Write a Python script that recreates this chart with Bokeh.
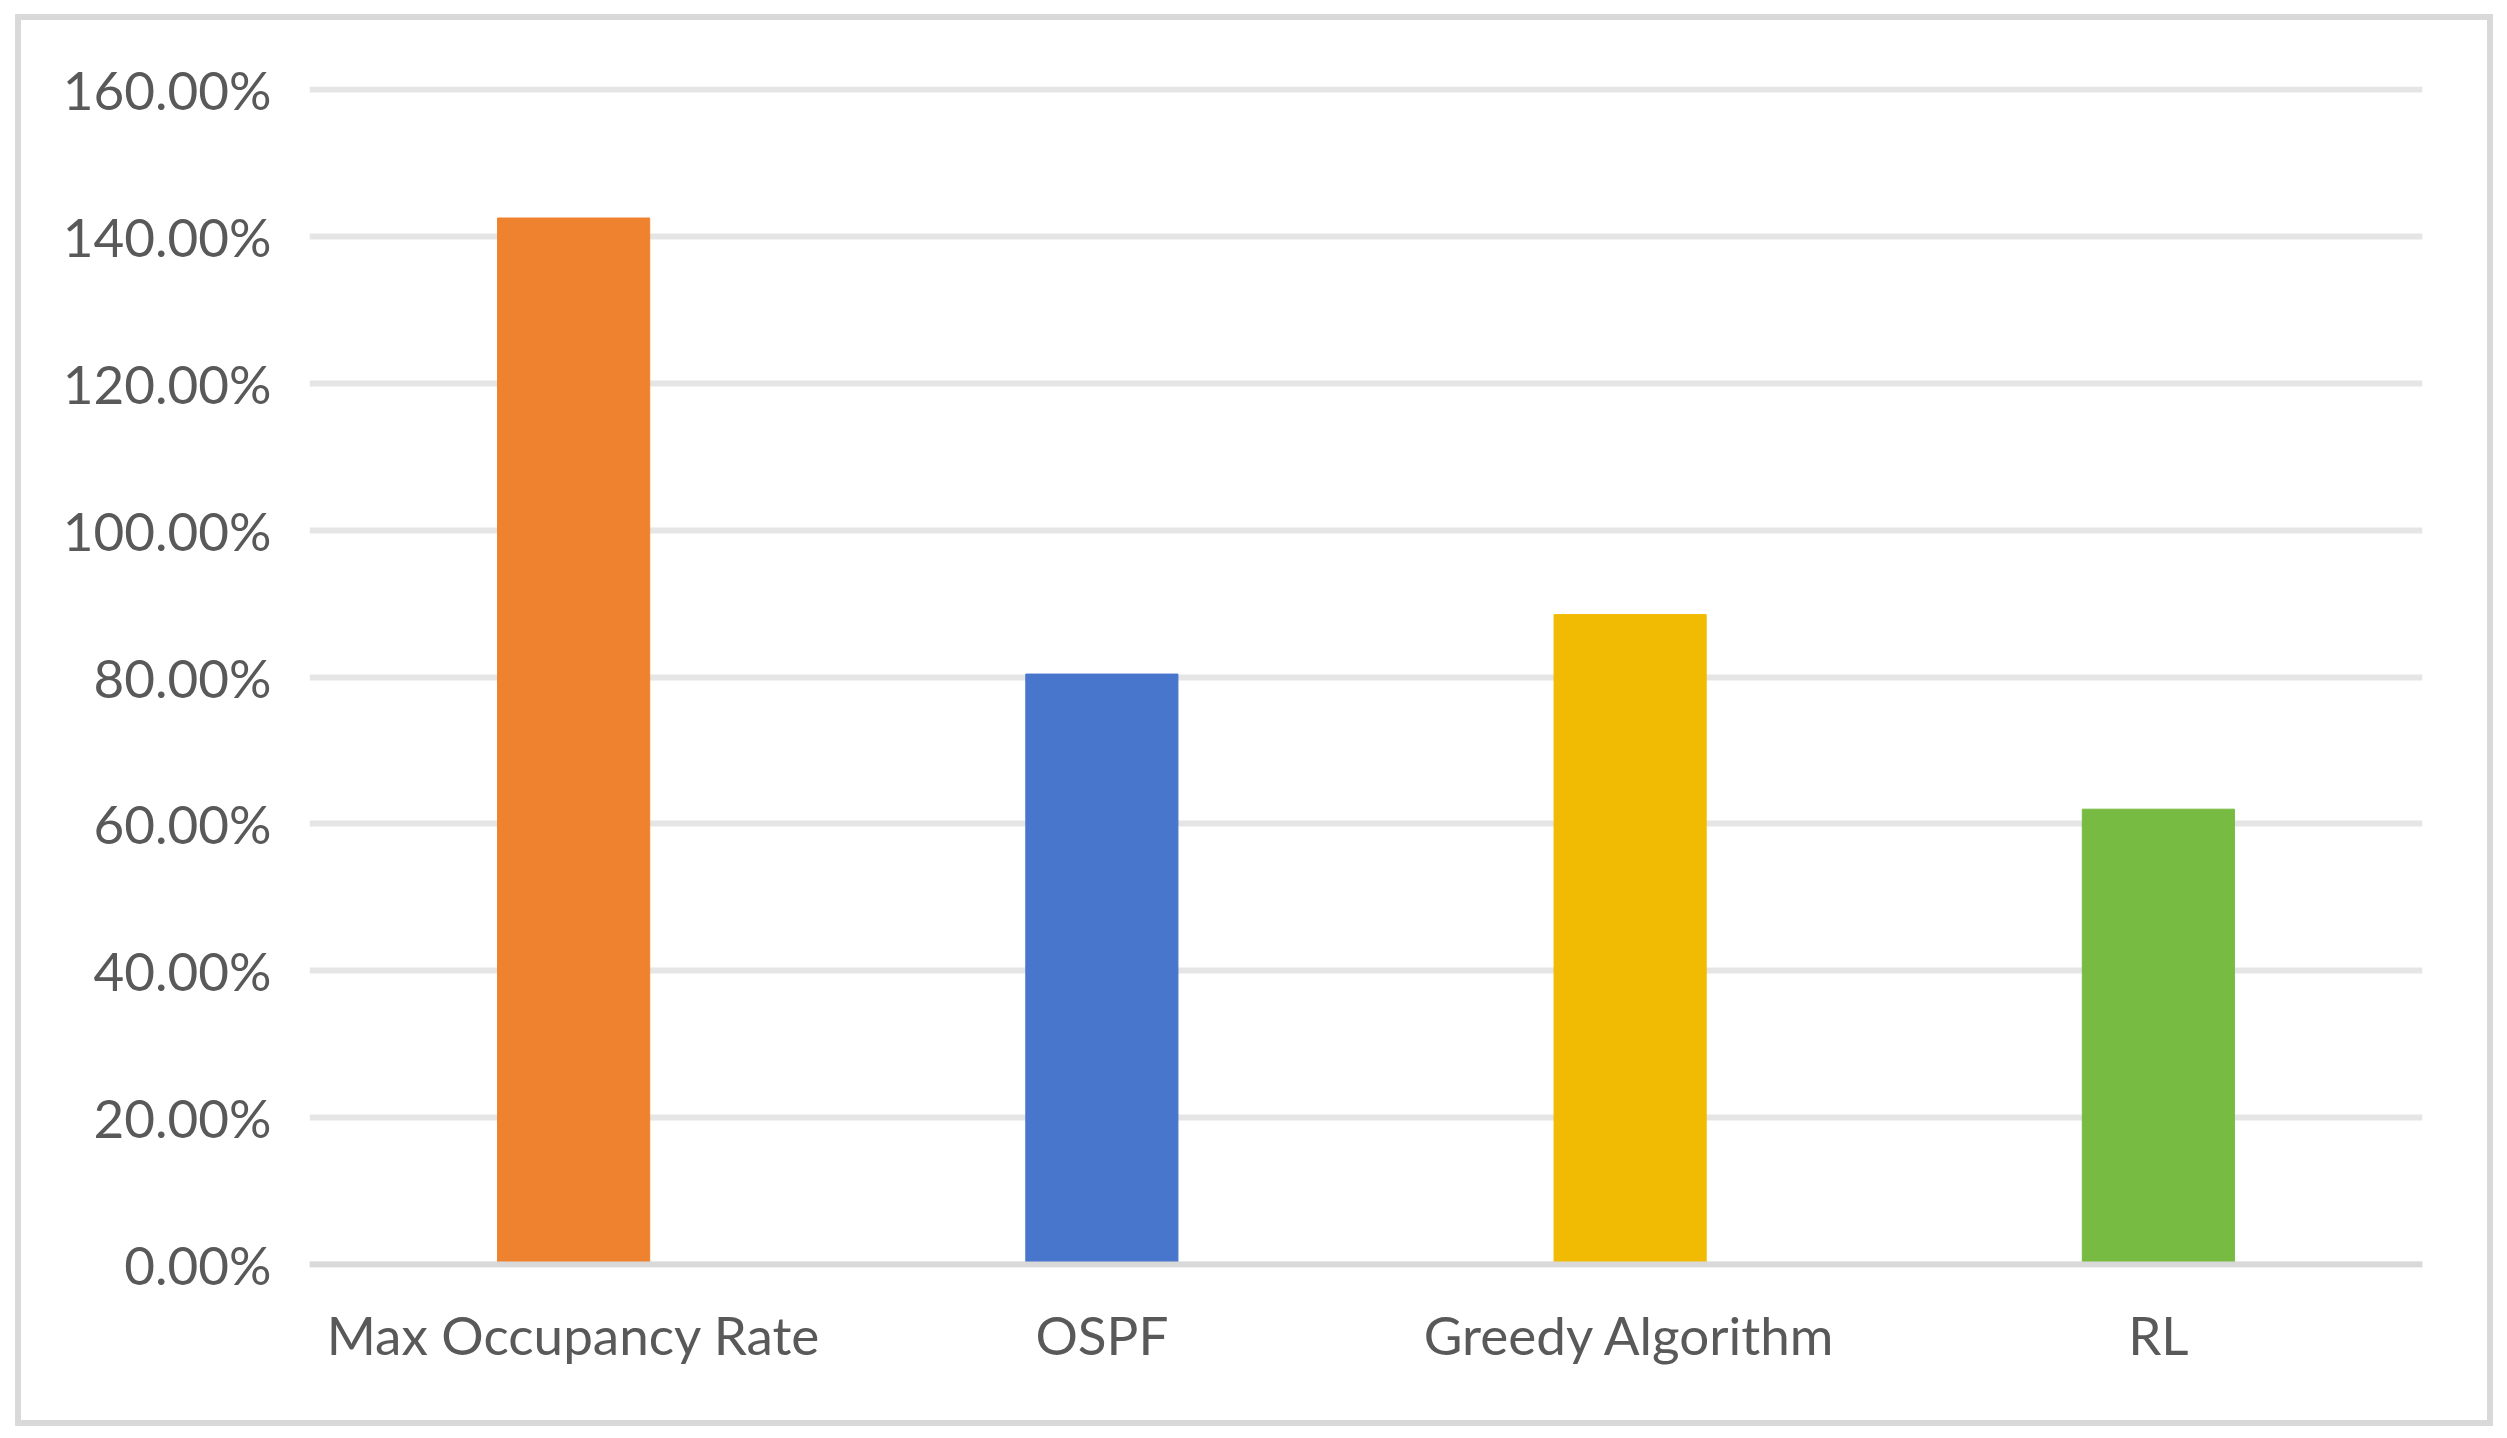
from bokeh.plotting import figure
from bokeh.models import FactorRange, Range1d, Span, SingleIntervalTicker, PrintfTickFormatter, ColumnDataSource, Spacer
from bokeh.layouts import column, row
from bokeh.embed import file_html
from bokeh.resources import INLINE

categories = ["Max Occupancy Rate", "OSPF", "Greedy Algorithm", "RL"]
values = [142.5, 80.4, 88.5, 62.0]   # percent
colors = ["#EE822F", "#4876CC", "#F1BB04", "#77BB43"]

FONT = "Lato"
TXT = "#595959"
BORDER = "#d9d9d9"

src = ColumnDataSource(dict(cat=categories, val=values, col=colors))

W, H, B = 2466, 1400, 6
OX, OY = 15, 14

p = figure(x_range=FactorRange(*categories, range_padding=0),
           y_range=Range1d(-0.41, 160.41),
           width=W, height=H,
           output_backend="svg", toolbar_location=None,
           min_border_left=288, min_border_right=65,
           min_border_top=66, min_border_bottom=153)
p.outline_line_color = None
p.background_fill_color = "white"
p.border_fill_color = "white"

p.vbar(x="cat", top="val", bottom=0, width=0.288, color="col", source=src)

zero = Span(location=0, dimension="width", line_color=BORDER, line_width=6)
p.add_layout(zero)

p.ygrid.ticker = SingleIntervalTicker(interval=20)
p.ygrid.grid_line_color = "#e5e5e5"
p.ygrid.grid_line_width = 6
p.xgrid.grid_line_color = None

p.yaxis.ticker = SingleIntervalTicker(interval=20)
p.yaxis.formatter = PrintfTickFormatter(format="%.2f%%")
for ax in (p.xaxis, p.yaxis):
    ax.axis_line_color = None
    ax.major_tick_line_color = None
    ax.minor_tick_line_color = None
    ax.major_tick_out = 0
    ax.minor_tick_out = 0
    ax.major_label_text_font = FONT
    ax.major_label_text_font_size = "53px"
    ax.major_label_text_color = TXT
p.yaxis.major_label_standoff = 38
p.xaxis.major_label_standoff = 35


def bar(w, h):
    return Spacer(width=w, height=h, styles={"background-color": BORDER})


layout = column(
    Spacer(width=10, height=OY),
    row(Spacer(width=OX, height=B), bar(W + 2 * B, B)),
    row(Spacer(width=OX, height=H), bar(B, H), p, bar(B, H)),
    row(Spacer(width=OX, height=B), bar(W + 2 * B, B)),
)

open("out.html", "w").write(file_html(layout, INLINE))
